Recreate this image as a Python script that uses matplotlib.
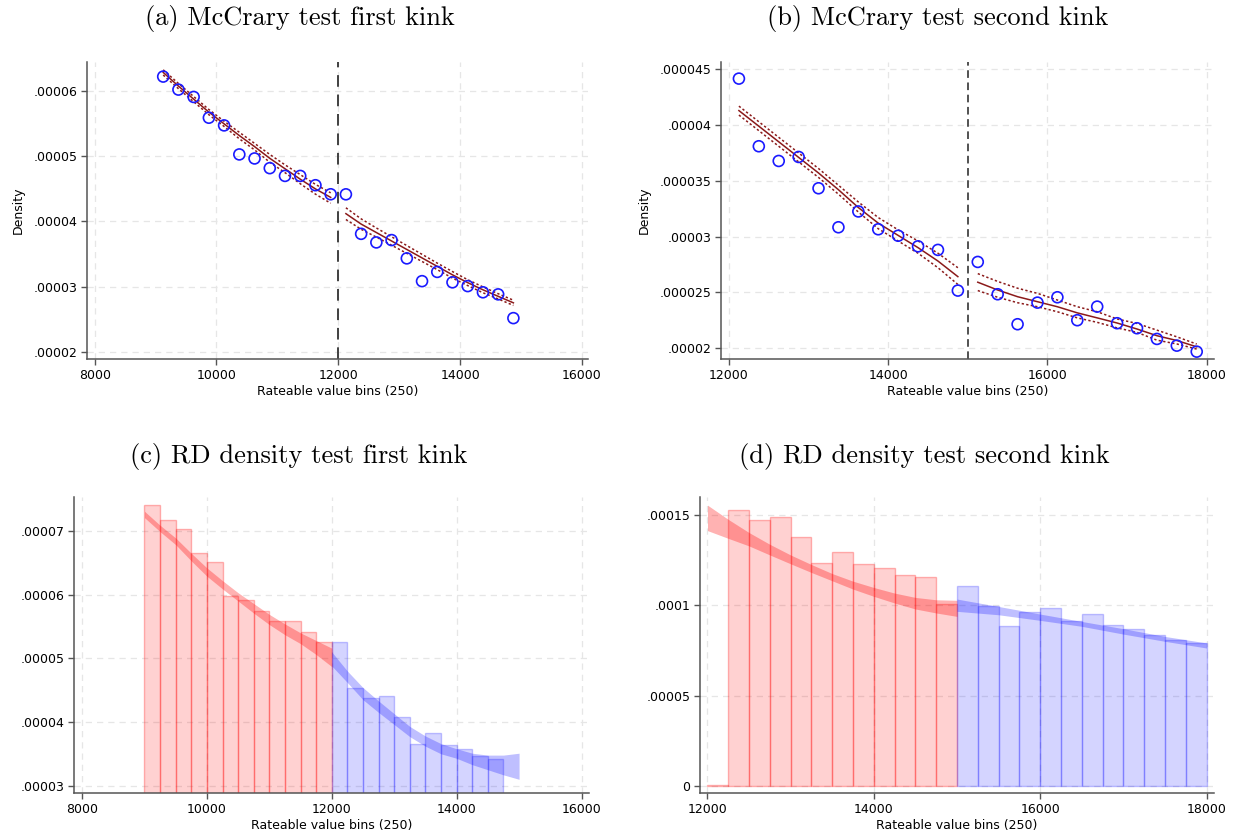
import numpy as np
import matplotlib
matplotlib.use('Agg')
import matplotlib.pyplot as plt
from matplotlib.ticker import FuncFormatter

# Binned densities (x1e-5) at the bin midpoints, shared by the McCrary panels
bin_mid = [9125, 9375, 9625, 9875, 10125, 10375, 10625, 10875, 11125, 11375, 11625, 11875,
           12125, 12375, 12625, 12875, 13125, 13375, 13625, 13875, 14125, 14375, 14625, 14875,
           15125, 15375, 15625, 15875, 16125, 16375, 16625, 16875, 17125, 17375, 17625, 17875]
bin_density = [6.226, 6.026, 5.913, 5.594, 5.476, 5.030, 4.968, 4.819, 4.700, 4.700, 4.557, 4.418,
               4.417, 3.810, 3.678, 3.714, 3.433, 3.083, 3.225, 3.065, 3.007, 2.912, 2.880, 2.515,
               2.772, 2.482, 2.213, 2.407, 2.455, 2.249, 2.371, 2.222, 2.177, 2.081, 2.021, 1.967]

# McCrary fits, first kink (12000)
a_left_fit = [6.29, 6.08, 5.88, 5.68, 5.50, 5.32, 5.15, 4.97, 4.81, 4.65, 4.50, 4.37]
a_left_hi = [6.33, 6.12, 5.92, 5.72, 5.54, 5.37, 5.20, 5.03, 4.87, 4.72, 4.57, 4.44]
a_left_lo = [6.25, 6.04, 5.84, 5.64, 5.46, 5.27, 5.10, 4.91, 4.75, 4.58, 4.42, 4.28]
a_right_fit = [4.12, 3.96, 3.83, 3.70, 3.57, 3.44, 3.31, 3.18, 3.06, 2.95, 2.85, 2.75]
a_right_hi = [4.21, 4.04, 3.90, 3.765, 3.63, 3.495, 3.36, 3.23, 3.105, 2.995, 2.89, 2.79]
a_right_lo = [4.03, 3.88, 3.76, 3.635, 3.51, 3.385, 3.26, 3.13, 3.015, 2.905, 2.81, 2.71]

# McCrary fits, second kink (15000)
b_left_fit = [4.13, 3.99, 3.85, 3.71, 3.57, 3.42, 3.26, 3.12, 3.01, 2.90, 2.78, 2.64]
b_left_hi = [4.17, 4.03, 3.89, 3.75, 3.61, 3.46, 3.31, 3.17, 3.06, 2.96, 2.85, 2.72]
b_left_lo = [4.09, 3.95, 3.81, 3.67, 3.53, 3.38, 3.22, 3.07, 2.96, 2.85, 2.72, 2.57]
b_right_fit = [2.59, 2.52, 2.46, 2.415, 2.37, 2.315, 2.27, 2.224, 2.17, 2.11, 2.067, 2.01]
b_right_hi = [2.667, 2.597, 2.536, 2.49, 2.43, 2.37, 2.325, 2.26, 2.22, 2.16, 2.10, 2.035]
b_right_lo = [2.515, 2.455, 2.406, 2.37, 2.325, 2.27, 2.23, 2.18, 2.14, 2.07, 2.036, 1.99]

# RD density histograms (left bin edges, heights x1e-5)
c_edges = [9000, 9250, 9500, 9750, 10000, 10250, 10500, 10750, 11000, 11250, 11500, 11750,
           12000, 12250, 12500, 12750, 13000, 13250, 13500, 13750, 14000, 14250, 14500]
c_heights = [7.414, 7.173, 7.031, 6.660, 6.518, 5.980, 5.916, 5.738, 5.592, 5.592, 5.414, 5.257,
             5.260, 4.540, 4.378, 4.415, 4.079, 3.658, 3.826, 3.637, 3.575, 3.467, 3.420]
d_edges = [12000, 12250, 12500, 12750, 13000, 13250, 13500, 13750, 14000, 14250, 14500, 14750,
           15000, 15250, 15500, 15750, 16000, 16250, 16500, 16750, 17000, 17250, 17500, 17750]
d_heights = [0.07, 15.27, 14.75, 14.89, 13.77, 12.35, 12.94, 12.28, 12.07, 11.68, 11.55, 10.08,
             11.10, 9.94, 8.87, 9.61, 9.85, 9.15, 9.50, 8.89, 8.71, 8.34, 8.08, 7.92]

# RD density confidence bands (x1e-5)
c_left_x = [9000, 9250, 9500, 9750, 10000, 10250, 10500, 10750, 11000, 11250, 11500, 11750, 12000]
c_left_hi = [7.31, 7.09, 6.89, 6.65, 6.42, 6.22, 6.03, 5.86, 5.69, 5.54, 5.40, 5.28, 5.16]
c_left_lo = [7.21, 6.99, 6.785, 6.53, 6.29, 6.09, 5.90, 5.71, 5.53, 5.37, 5.23, 5.06, 4.87]
c_right_x = [12000, 12250, 12500, 12750, 13000, 13250, 13500, 13750, 14000, 14250, 14500, 14750, 15000]
c_right_hi = [5.10, 4.80, 4.54, 4.33, 4.13, 3.93, 3.78, 3.66, 3.58, 3.51, 3.48, 3.48, 3.51]
c_right_lo = [4.88, 4.62, 4.35, 4.15, 3.96, 3.77, 3.62, 3.50, 3.43, 3.33, 3.25, 3.17, 3.10]
d_left_x = [12000, 12250, 12500, 12750, 13000, 13250, 13500, 13750, 14000, 14250, 14500, 14750, 15000]
d_left_hi = [15.55, 14.76, 14.03, 13.38, 12.79, 12.26, 11.76, 11.34, 10.99, 10.68, 10.44, 10.31, 10.28]
d_left_lo = [14.14, 13.71, 13.29, 12.79, 12.30, 11.82, 11.36, 10.90, 10.50, 10.13, 9.80, 9.58, 9.39]
d_right_x = [15000, 15500, 16000, 16500, 17000, 17500, 18000]
d_right_hi = [10.35, 9.94, 9.52, 9.11, 8.71, 8.28, 7.92]
d_right_lo = [9.67, 9.48, 9.17, 8.84, 8.41, 8.01, 7.64]

SCALE = 1e-5
W, H = 1239, 836
FIT_COLOR = '#8b1a1a'
GRID_COLOR = '#e6e6e6'
AXIS_COLOR = '#555555'
LABEL_SIZE = 9


def arr(values):
    return np.asarray(values, dtype=float) * SCALE


def stata_fmt(v, pos):
    # Stata-style density labels: .00005, .000045, 0
    if abs(v) < 1e-12:
        return '0'
    s = f'{v:.6f}'.rstrip('0')
    return s[1:] if s.startswith('0') else s


def add_axes_px(fig, left, top, right, bottom):
    return fig.add_axes([left / W, 1 - bottom / H, (right - left) / W, (bottom - top) / H])


def style_axis(ax, xticks, yticks, xlim, ylim):
    ax.set_xlim(*xlim)
    ax.set_ylim(*ylim)
    ax.set_xticks(xticks)
    ax.set_yticks(yticks)
    ax.yaxis.set_major_formatter(FuncFormatter(stata_fmt))
    ax.grid(True, color=GRID_COLOR, linestyle=(0, (5, 4)), linewidth=0.9)
    ax.set_axisbelow(True)
    for side in ['top', 'right']:
        ax.spines[side].set_visible(False)
    for side in ['left', 'bottom']:
        ax.spines[side].set_color(AXIS_COLOR)
        ax.spines[side].set_linewidth(1.1)
    ax.tick_params(direction='out', length=4, width=1, color=AXIS_COLOR, labelsize=LABEL_SIZE, pad=3)
    ax.set_xlabel('Rateable value bins (250)', fontsize=LABEL_SIZE, labelpad=2)


def mccrary_panel(ax, sl, left_fit, right_fit, cutoff):
    x = np.asarray(bin_mid[sl])
    n_left = len(left_fit[0])
    ax.axvline(cutoff, color='#404040', linewidth=1.4, linestyle=(0, (6, 4)), zorder=1)
    for (fit, hi, lo), xs in [(left_fit, x[:n_left]), (right_fit, x[n_left:])]:
        ax.plot(xs, arr(fit), color=FIT_COLOR, linewidth=1.1, zorder=2)
        ax.plot(xs, arr(hi), color=FIT_COLOR, linewidth=1.1, linestyle=(0, (1.5, 1.5)), zorder=2)
        ax.plot(xs, arr(lo), color=FIT_COLOR, linewidth=1.1, linestyle=(0, (1.5, 1.5)), zorder=2)
    ax.scatter(x, arr(bin_density[sl]), s=62, facecolors='none', edgecolors='#1a1aff',
               linewidths=1.2, zorder=3)
    ax.set_ylabel('Density', fontsize=LABEL_SIZE, labelpad=6)


def rd_panel(ax, edges, heights, cutoff, left_band, right_band):
    edges = np.asarray(edges)
    heights = arr(heights)
    left = edges < cutoff
    ax.bar(edges[left], heights[left], width=250, align='edge', color=(1, 0, 0, 0.18),
           edgecolor=(1, 0, 0, 0.28), linewidth=1.0, zorder=2)
    ax.bar(edges[~left], heights[~left], width=250, align='edge', color=(0, 0, 1, 0.17),
           edgecolor=(0, 0, 1, 0.22), linewidth=1.0, zorder=2)
    bx, bhi, blo = left_band
    ax.fill_between(bx, arr(blo), arr(bhi), color='red', alpha=0.3, linewidth=0, zorder=3)
    bx, bhi, blo = right_band
    ax.fill_between(bx, arr(blo), arr(bhi), color='blue', alpha=0.25, linewidth=0, zorder=3)


fig = plt.figure(figsize=(W / 100, H / 100), dpi=100)

ax_a = add_axes_px(fig, 87, 62, 588, 359)
mccrary_panel(ax_a, slice(0, 24),
              (a_left_fit, a_left_hi, a_left_lo), (a_right_fit, a_right_hi, a_right_lo), 12000)
style_axis(ax_a, [8000, 10000, 12000, 14000, 16000], arr([2, 3, 4, 5, 6]),
           (7874, 16100), (1.887e-5, 6.45e-5))

ax_b = add_axes_px(fig, 721, 62, 1214, 359)
mccrary_panel(ax_b, slice(12, 36),
              (b_left_fit, b_left_hi, b_left_lo), (b_right_fit, b_right_hi, b_right_lo), 15000)
ax_b.lines[0].set_color('#222222')
ax_b.lines[0].set_linewidth(1.1)
ax_b.lines[0].set_linestyle((0, (5, 3)))
style_axis(ax_b, [12000, 14000, 16000, 18000], arr([2, 2.5, 3, 3.5, 4, 4.5]),
           (11900, 18092), (1.901e-5, 4.566e-5))

ax_c = add_axes_px(fig, 74, 497, 589, 793)
rd_panel(ax_c, c_edges, c_heights, 12000,
         (c_left_x, c_left_hi, c_left_lo), (c_right_x, c_right_hi, c_right_lo))
style_axis(ax_c, [8000, 10000, 12000, 14000, 16000], arr([3, 4, 5, 6, 7]),
           (7871, 16120), (2.885e-5, 7.534e-5))

ax_d = add_axes_px(fig, 700, 497, 1214, 793)
rd_panel(ax_d, d_edges, d_heights, 15000,
         (d_left_x, d_left_hi, d_left_lo), (d_right_x, d_right_hi, d_right_lo))
style_axis(ax_d, [12000, 14000, 16000, 18000], arr([0, 5, 10, 15]),
           (11910, 18090), (-0.387e-5, 16.0e-5))

# Panel captions in a LaTeX-like serif
captions = [('(a) McCrary test first kink', 300, 18),
            ('(b) McCrary test second kink', 938, 18),
            ('(c) RD density test first kink', 299, 457),
            ('(d) RD density test second kink', 924, 457)]
for text, cx, cy in captions:
    fig.text(cx / W, 1 - cy / H, text, ha='center', va='center', fontfamily='cmr10', fontsize=19)

fig.savefig('out.png', dpi=100)
